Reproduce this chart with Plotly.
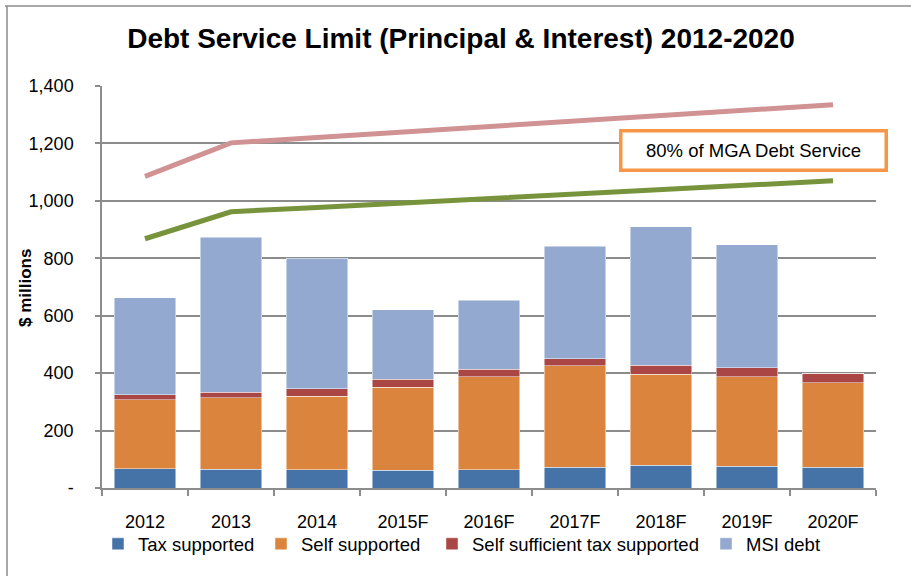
import plotly.graph_objects as go

years = ["2012", "2013", "2014", "2015F", "2016F", "2017F", "2018F", "2019F", "2020F"]
tax_supported = [67, 66, 63, 61, 64, 73, 80, 75, 72]
self_supported = [240, 248, 256, 290, 323, 352, 317, 312, 295]
self_sufficient_tax = [17, 19, 27, 27, 27, 25, 30, 32, 32]
msi_debt = [338, 540, 454, 242, 240, 392, 482, 428, 0]
debt_limit_upper = [1085, 1202, 1221, 1240, 1259, 1278, 1297, 1316, 1335]
debt_limit_80pct = [868, 962, 977, 993, 1008, 1023, 1039, 1054, 1070]
y_ticks = [0, 200, 400, 600, 800, 1000, 1200, 1400]
y_tick_labels = ["-", "200", "400", "600", "800", "1,000", "1,200", "1,400"]

FONT = "Liberation Sans, Arial, sans-serif"
edge = dict(color="rgba(255,255,255,0.6)", width=0.8)

fig = go.Figure()
fig.add_bar(x=years, y=tax_supported, name="Tax supported", legend="legend",
            marker=dict(color="#4572A7", line=edge))
fig.add_bar(x=years, y=self_supported, name="Self supported", legend="legend2",
            marker=dict(color="#DB843D", line=edge))
fig.add_bar(x=years, y=self_sufficient_tax, name="Self sufficient tax supported", legend="legend3",
            marker=dict(color="#AA4643", line=edge))
fig.add_bar(x=years, y=msi_debt, name="MSI debt", legend="legend4",
            marker=dict(color="#93A9CF", line=edge))
fig.add_scatter(x=years, y=debt_limit_upper, mode="lines", showlegend=False,
                line=dict(color="#D09292", width=5))
fig.add_scatter(x=years, y=debt_limit_80pct, mode="lines", showlegend=False,
                line=dict(color="#77933C", width=5))

pw, ph = 911 - 102 - 35, 576 - 86 - 88


def leg(px):
    return dict(orientation="h", x=(px - 102) / pw, xanchor="left", y=-0.14, yanchor="middle",
                font=dict(size=18.5), itemwidth=30, bgcolor="rgba(0,0,0,0)")


fig.update_layout(
    barmode="stack",
    bargap=0.29,
    width=911, height=576,
    margin=dict(l=102, r=35, t=86, b=88),
    paper_bgcolor="white", plot_bgcolor="white",
    font=dict(family=FONT, size=18, color="black"),
    title=dict(text="<b>Debt Service Limit (Principal & Interest) 2012-2020</b>",
               font=dict(family="Liberation Sans Narrow, Arial Narrow, sans-serif", size=28, color="black"),
               x=0.506, xanchor="center", y=0.933, yanchor="middle"),
    legend=leg(98), legend2=leg(261), legend3=leg(432), legend4=leg(706),
    xaxis=dict(showline=True, linecolor="#8C8C8C", linewidth=1.5,
               ticks="outside", tickson="boundaries", ticklen=6, tickcolor="#8C8C8C", tickwidth=1.5,
               ticklabelstandoff=17, showgrid=False, tickfont=dict(size=18)),
    yaxis=dict(range=[0, 1400], tickvals=y_ticks, ticktext=y_tick_labels,
               showline=True, linecolor="#8C8C8C", linewidth=1.5,
               ticks="outside", ticklen=5, tickcolor="#8C8C8C", tickwidth=1.5,
               ticklabelstandoff=18, tickfont=dict(size=18),
               showgrid=True, gridcolor="#8C8C8C", gridwidth=1.5, zeroline=False),
    annotations=[
        dict(text="80% of MGA Debt Service", xref="paper", yref="paper",
             x=(753 - 102) / pw, y=(488 - 150) / ph, xanchor="center", yanchor="middle",
             showarrow=False,
             font=dict(size=18.5, color="black"), bgcolor="white",
             bordercolor="#F79646", borderwidth=3.5, borderpad=2,
             width=258, height=32),
        dict(text="<b>$ millions</b>", xref="paper", yref="paper",
             x=(25 - 102) / pw, y=(488 - 288) / ph, xanchor="center", yanchor="middle",
             textangle=-90, showarrow=False, font=dict(size=17, color="black")),
    ],
    shapes=[
        dict(type="line", xref="paper", yref="paper",
             x0=(5 - 102) / pw, x1=(911 - 102) / pw, y0=(488 - 6) / ph, y1=(488 - 6) / ph,
             line=dict(color="#8C8C8C", width=1.5)),
        dict(type="line", xref="paper", yref="paper",
             x0=(7 - 102) / pw, x1=(7 - 102) / pw, y0=(488 - 6) / ph, y1=(488 - 576) / ph,
             line=dict(color="#8C8C8C", width=1.5)),
    ],
)
fig.write_html("out.html", config={"displayModeBar": False},
               post_script="document.body.style.margin='0';")
